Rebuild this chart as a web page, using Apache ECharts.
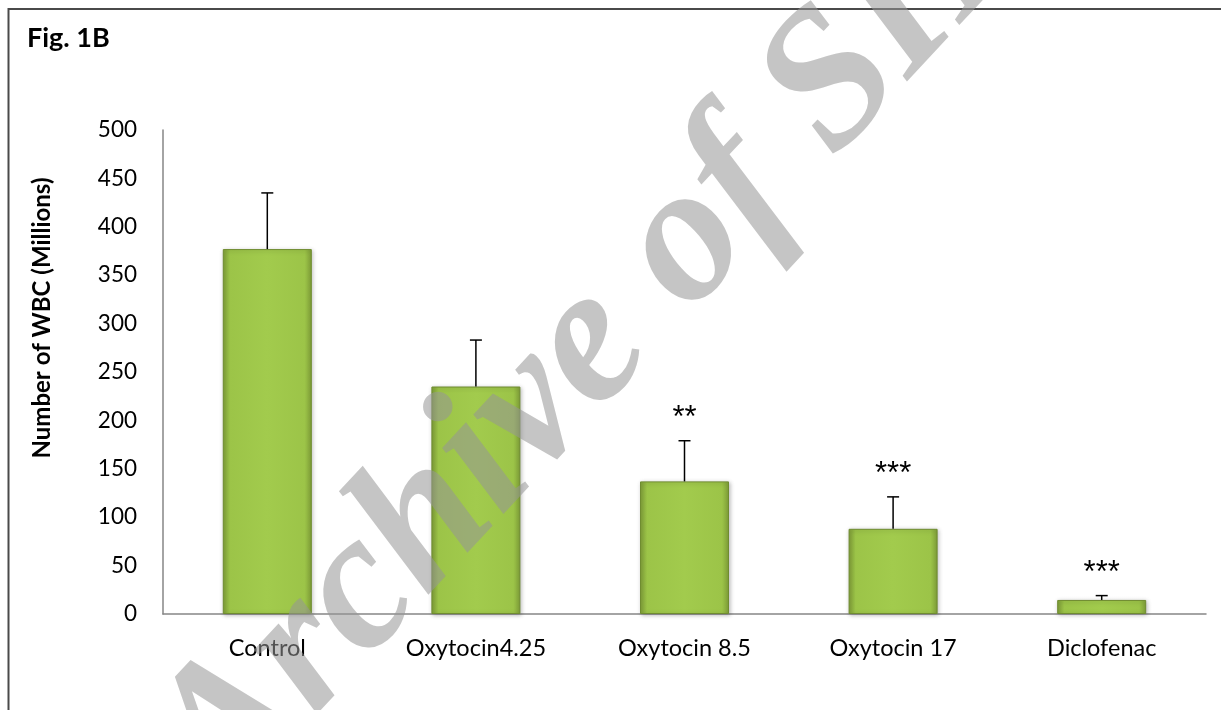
<!DOCTYPE html>
<html>
<head>
<meta charset="utf-8">
<script src="https://cdn.jsdelivr.net/npm/echarts@6/dist/echarts.min.js"></script>
<style>
html,body{margin:0;padding:0;background:#fff;}
#chart{width:1221px;height:710px;}
</style>
</head>
<body>
<div id="chart"></div>
<script>
var categories = ['Control', 'Oxytocin4.25', 'Oxytocin 8.5', 'Oxytocin 17', 'Diclofenac'];
var meanValues = [377, 235, 137, 88, 14.5];
var errorValues = [58, 48, 42, 33, 4.5];
var significance = ['', '', '**', '***', '***'];
var yTicks = [0, 50, 100, 150, 200, 250, 300, 350, 400, 450, 500];

var errData = categories.map(function (c, i) { return [i, meanValues[i], meanValues[i] + errorValues[i]]; });
var starData = categories.map(function (c, i) { return [i, meanValues[i] + errorValues[i]]; });

var chart = echarts.init(document.getElementById('chart'), null, {renderer: 'canvas'});
var option = {
  backgroundColor: '#ffffff',
  animation: false,
  grid: {left: 163, right: 15, top: 130, bottom: 96, containLabel: false},
  xAxis: {
    type: 'category',
    data: categories,
    axisLine: {show: true, lineStyle: {color: '#868686', width: 1.5}},
    axisTick: {show: false},
    axisLabel: {color: '#000', fontFamily: 'Lato', fontSize: 23.5, margin: 22}
  },
  yAxis: {
    type: 'value',
    min: yTicks[0],
    max: yTicks[yTicks.length - 1],
    interval: yTicks[1] - yTicks[0],
    axisLine: {show: true, lineStyle: {color: '#868686', width: 1.5}},
    axisTick: {show: false},
    splitLine: {show: false},
    axisLabel: {color: '#000', fontFamily: 'Lato', fontSize: 22.5, margin: 26}
  },
  series: [
    {
      type: 'bar',
      data: meanValues,
      barWidth: 89,
      itemStyle: {
        color: new echarts.graphic.LinearGradient(0, 0, 1, 0, [
          {offset: 0, color: '#7f9e38'},
          {offset: 0.08, color: '#9cc448'},
          {offset: 0.5, color: '#a2cb4d'},
          {offset: 0.92, color: '#9cc448'},
          {offset: 1, color: '#7f9e38'}
        ]),
        borderColor: '#6f8c30',
        borderWidth: 1,
        shadowColor: 'rgba(0,0,0,0.25)',
        shadowBlur: 4,
        shadowOffsetX: 1,
        shadowOffsetY: 1
      },
      z: 2
    },
    {
      type: 'custom',
      data: errData,
      z: 3,
      renderItem: function (params, api) {
        var base = api.coord([api.value(0), api.value(1)]);
        var top = api.coord([api.value(0), api.value(2)]);
        return {
          type: 'group',
          children: [
            {type: 'line', shape: {x1: base[0], y1: base[1], x2: top[0], y2: top[1]}, style: {stroke: '#000', lineWidth: 1.5}},
            {type: 'line', shape: {x1: top[0] - 6, y1: top[1], x2: top[0] + 6, y2: top[1]}, style: {stroke: '#000', lineWidth: 1.5}}
          ]
        };
      }
    },
    {
      type: 'custom',
      data: starData,
      z: 4,
      renderItem: function (params, api) {
        var p = api.coord([api.value(0), api.value(1)]);
        var txt = significance[params.dataIndex];
        return {
          type: 'text',
          style: {text: txt, x: p[0], y: p[1] - 22, align: 'center', verticalAlign: 'middle', fill: '#000', font: '31px "Liberation Sans"'}
        };
      }
    }
  ],
  graphic: [
    {type: 'rect', shape: {x: 8.5, y: 9, width: 1400, height: 900}, style: {fill: 'none', stroke: '#4a4a4a', lineWidth: 2}, z: 0, silent: true},
    {type: 'text', x: 27, y: 38, style: {text: 'Fig. 1B', font: 'bold 27px Lato', fill: '#000', verticalAlign: 'middle', align: 'left'}},
    {type: 'text', x: 42, y: 318, rotation: Math.PI / 2, style: {text: 'Number of WBC (Millions)', font: 'bold 24px Lato', fill: '#000', align: 'center', verticalAlign: 'middle'}},
    {type: 'text', x: 604, y: 332, rotation: 47 * Math.PI / 180, z: 100, silent: true,
      style: {text: 'Archive of SID', font: 'italic bold 196px "Liberation Serif"', fill: 'rgba(150,150,150,0.55)', align: 'center', verticalAlign: 'middle'}}
  ]
};
chart.setOption(option);
</script>
</body>
</html>
